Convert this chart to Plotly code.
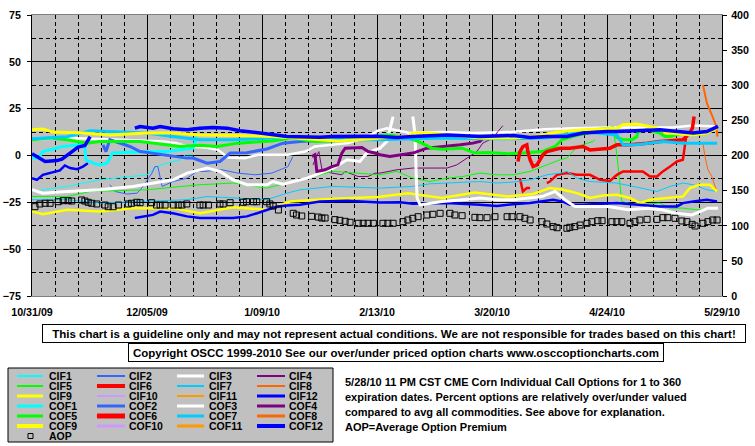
import pandas as pd
import plotly.graph_objects as go

# ---------------- data (day offsets from 10/31/09, value) ----------------
BASE = pd.Timestamp("2009-10-31")
x_tick_dates = ["2009-10-31", "2009-12-05", "2010-01-09", "2010-02-13",
                "2010-03-20", "2010-04-24", "2010-05-29"]
x_tick_labels = ["10/31/09", "12/05/09", "1/09/10", "2/13/10",
                 "3/20/10", "4/24/10", "5/29/10"]
left_ticks = [-75, -50, -25, 0, 25, 50, 75]
right_ticks = [0, 50, 100, 150, 200, 250, 300, 350, 400]

CIF1 = [(0, -19.2), (10.7, -16.5), (20.7, -13), (30.7, -11.2), (35, -10.3), (38, -5.9),
        (41.1, -4.1), (45, -2.3), (46.6, 0.4), (49, 0.4)]
CIF2 = [(23.7, -15.6), (25.3, -19.2), (28.9, -20.6), (32, -20.1), (33.8, -16.5), (36.5, -9.4),
        (37.4, -5.9), (38.3, -5.9), (39.6, -16.5), (42.9, -13.9), (47.2, -12.1), (50.2, -8.5),
        (52.6, -8.5), (57.8, -7.6), (62.7, -9.4), (67.9, -10.3), (73, -9.4), (77.9, -5.9), (79.4, -0.5)]
CIF3 = [(0, 8.5), (10.7, 9.3), (20.7, 8.8), (30.7, 8), (40, 7.5), (44, 6.5), (47.2, 4.8),
        (52.6, 4.3), (56.6, 3), (59.6, -1.1), (64.8, -1.4), (68.8, 0.4), (77.9, 0.4), (83.1, 2.1),
        (86.1, 4.8), (91.3, 5.7), (96.2, 6.6), (101.3, 9.3), (105.3, 13.2), (108, 14.5), (115, 12),
        (125, 12.5), (135, 12), (146, 12.5), (156, 14), (165, 14.5), (175, 15), (185, 15),
        (195, 15), (201, 16), (208.8, 15.5)]
CIF4 = [(85.5, -5), (87.3, 2.1), (88.3, -8), (91.3, -9.4), (94.3, -10.3), (95.3, -8.5),
        (99.2, -11.2), (102.3, -11.2), (104.4, -9.4), (105.9, -9.4), (111.1, -7.6), (115.9, -6.7),
        (126.3, -6.7), (129.3, -5), (132.4, -1.4), (135.4, 2.1), (137.2, 6.6), (140.3, 9.3),
        (141.8, 12.8), (143.3, 15.9)]
CIF5 = [(0, -21.9), (10.7, -21.9), (17.7, -19.2), (35, -18.3), (51.1, -15.6), (61.2, -14.7),
        (71.5, -17.4), (81.6, -13), (91.6, -8.5), (105.9, -10.3), (111.1, -8.5), (115.9, -12.1),
        (121.1, -13.9), (126.3, -12.1), (131.2, -11.2), (136.3, -9.4), (141.5, -10.3),
        (146.4, -10.3), (151.6, -8.5), (156.7, -5), (160.7, -2.3), (162.8, -1.4), (165.9, 4.8),
        (170.7, 7.5), (171.3, 8.4), (174, None), (176.8, 15.5), (178, 0.4), (179.5, -24.6),
        (184.1, -26.3), (191.1, -25.4), (194.2, -28.1), (198.1, -28.1), (202.4, -29), (208.5, -28.1)]
CIF6 = [(148.5, -12.1), (149.1, -16.5), (149.4, -19.2), (150.6, -17.4), (151.6, -17.4), (154, None),
        (156.7, -14.7), (157.6, -13.9), (159.8, -10.3), (162.8, -9.4), (165.9, -10.3), (169.8, -10.3),
        (172.9, -13), (175.9, -13.6), (178, -10.3), (179.9, -8.5), (185.9, -8.5), (188.1, -11.2),
        (190.2, -11.2), (192, -8.5), (194.2, -5.9), (196.3, -3.2), (198.1, -2.3), (198.7, 5.7),
        (199.3, 12.8)]
CIF7 = [(0, -23.6), (10.7, -23.6), (20.7, -25.4), (35, -24.6), (47.2, -23.6), (53.3, -21.9),
        (61.2, -22.7), (71.5, -23.6), (77.6, -20.1), (81.6, -18.3), (91.6, -16.5), (105.9, -17.4),
        (115.9, -16.5), (121.1, -15.1), (126.3, -14.7), (136.3, -13.9), (141.5, -14.7), (146.4, -14.2),
        (151.6, -13), (156.7, -10.3), (160.7, -9.4), (162.8, -8.5), (165.9, -12.1), (169.8, -13.9),
        (178, -14.7), (185.9, -17.4), (190.2, -19.2), (194.2, -16.5), (198.1, -14.7), (201.2, -15.6),
        (205.4, -18.3), (208.5, -19.2)]
CIF8 = [(204.2, 6.6), (204.8, -0.5), (205.7, -7.6), (206.9, -11.2), (207.9, -16.5), (208.5, -19.2)]
CIF9 = [(0, -29.9), (3.3, -31.3), (10.7, -29), (20.7, -29.9), (30.7, -28.1), (42.9, -28.1),
        (51.1, -30.8), (61.2, -27.6), (71.5, -29), (78.5, -24.6), (91.6, -23.1), (105.3, -22.2),
        (114.4, -20.1), (124.8, -22.7), (134.8, -19.7), (144.9, -21.9), (152.5, -20.5), (157.6, -17.4),
        (161.6, -18.3), (165.9, -20.1), (169.8, -22.7), (173.8, -21.4), (178, -21), (182, -22.7),
        (185, -25.4), (188.1, -23.6), (193.2, -22.7), (198.1, -21.9), (200.2, -17.4), (203.3, -15.6),
        (206.3, -15.6), (208.5, -19.2)]
CIF10 = []
CIF11 = []
CIF12 = [(0, -12.1), (1.5, -13), (3.3, -10.3), (5.5, -9.4), (8.5, -8), (10, -5.3), (11.6, -6.7),
         (13.7, -7.3), (15.5, -5.9), (17, -4.1), (24, None), (31.3, -33.4), (33.8, -32.5),
         (36.8, -31.7), (39, -29.9), (42.9, -30.8), (47.2, -32.5), (51.1, -33.4), (61.2, -33.4),
         (65.4, -32.5), (68.5, -30.8), (71.5, -29), (74.6, -27.2), (77.6, -26.7), (81.6, -26.3),
         (87.6, -24.6), (91.6, -24.6), (95.9, -24.2), (105.9, -25.1), (112, -24.9), (115.9, -25.8),
         (126.3, -25.4), (136.3, -26.3), (141.5, -26.9), (146.4, -26), (151.6, -25.4), (158.6, -23.6),
         (161.6, -24.6), (163.7, -26.3), (167.7, -26.3), (178, -25.4), (184.1, -26.3), (191.1, -27.2),
         (196.3, -27.2), (198.1, -25.4), (201.2, -24.6), (205.4, -23.6), (208.5, -24.6)]

COF1 = [(0, -1.4), (2, -1.4), (3.3, 2.1), (9.4, 4.8), (14.6, 5.7), (16.1, 3.9), (16.4, -2.3),
        (18.6, -4.1), (20.7, -5), (22.8, -4.1), (24.5, 1.3), (28.9, 1.6), (35, 2.1), (41.1, 2.1),
        (45, 3), (49, 3.9), (50.2, 10.1)]
COF2 = [(21.6, 5.7), (22.5, 2.1), (23.7, 8.4), (29.8, 4.8), (32.9, 2.1), (39.9, 0.4), (42.9, -0.5),
        (47.2, -1.4), (49, -1.4), (53.3, -4.1), (57.2, -3.2), (60.3, 1.3), (65.4, 1.5), (71.5, 3.5),
        (76.4, 6.6), (81.6, 7.5), (88.3, 8.2), (95, 9)]
COF3 = [(0, -18.3), (3.3, -20.1), (10.7, -19.2), (20.7, -18.3), (30.7, -16.5), (39, -13.9),
        (42.9, -13), (47.2, -9.4), (53.3, -6.7), (57.2, -8.5), (61.2, -13), (65.4, -15.6),
        (71.5, -15.6), (73.3, -13.9), (76.4, -15.3), (83.7, -12.1), (91.6, -6.7), (95.9, -2.3),
        (99.8, -3.2), (101.9, 1.3), (105.9, 3.9), (108, 7.5), (108.9, 14.6), (109.9, 20.8),
        (113, None), (115.9, 20.8), (116.6, 11), (116.9, -8.5), (117.2, -22.7), (118.1, -26.4),
        (124.8, -24.6), (131.2, -23.6), (136.3, -22.7), (141.5, -23.6), (146.4, -23.6),
        (155.2, -21.9), (159.2, -19.2), (162.2, -23.6), (165.2, -27.2), (175.3, -27.2), (181.4, -29),
        (187.5, -28.1), (191.7, -29), (196, -30.8), (200.9, -31.7), (205.7, -28.1), (208.8, -28.1)]
COF4 = [(85.2, -0.5), (86.1, 0.4), (86.7, -8.5), (89.2, -7.6), (91.3, -5.9), (93.1, -5), (94.3, 1.3),
        (95.3, 3.9), (100.4, 4.3), (102.3, 2.1), (104.4, 1.3), (105.9, 0.4), (108.9, -0.5), (112, 0.4),
        (115.9, 1.3), (120.2, 3.9), (126.3, 4.8), (130.3, 5.7), (134.2, 6.6), (136.3, 7.5), (137.9, 10.1)]
COF5 = [(0, 8.4), (5.5, 9.3), (10.7, 8.4), (16.7, 6.6), (20.7, 7.5), (32.9, 7.5), (45, 4.8),
        (51.1, 5.5), (56.3, 4.8), (62.7, 6.6), (73, 7.8), (79.1, 9.3), (86.1, 7.5), (95.3, 8),
        (104.4, 10.1), (108.3, 11), (114.4, 9.3), (117.5, 7.5), (121.7, 3.9), (124.8, 3.4),
        (130.9, 3.9), (134.8, 1.3), (138.8, 1.6), (144.9, 0.9), (149.1, 1.3), (155.2, 2.1),
        (159.2, 4.8), (161.3, 8.4), (165.2, 10.5), (169.2, 12), (171.3, 13.7), (176.8, 14.6),
        (178, 9.6), (179.9, 8.4), (182.6, 8.4), (184.1, 10.1), (184.4, 12.8), (187.2, 13.7),
        (191.1, 12), (192.6, 10.1), (194.2, 10.1), (196.3, 11), (198.1, 12), (201.2, 11),
        (205.4, 12), (208.5, 14.6)]
COF6 = [(147.9, -3.2), (148.5, 2.1), (149.4, 4.8), (150.6, 5.7), (150.9, 2.1), (151.6, -2.3),
        (152.5, -5.9), (153.7, -5), (154.6, -2.3), (155.5, 0.4), (156.7, 2.1), (158.6, 3),
        (160.7, 3.9), (163.7, 3.9), (167.7, 4.8), (169.8, 3), (175.9, 3.9), (178, 5.7), (182, 5.7),
        (187.2, 6.6), (191.1, 7.5), (198.1, 8.4), (200.2, 12), (201, 14.6), (201.5, 20.8)]
COF7 = [(0, 9), (10.7, 10), (17.7, 13.2), (23.7, 12.8), (35, 12), (42.9, 10.1), (51.1, 8.4),
        (61.2, 8.4), (71.5, 9.3), (81.6, 10.1), (91.6, 8.4), (105.9, 8.4), (115.9, 9), (126.3, 9.3),
        (136.3, 9), (146.4, 9), (156.7, 9.5), (161.6, 11), (167.7, 12.8), (178, 11), (179.9, 5.7),
        (184.1, 5.7), (188.1, 6.6), (192, 7.5), (198.1, 6.6), (203.3, 6.6), (208.5, 6.6)]
COF8 = [(204.2, 37.7), (205.4, 27.9), (206.9, 21.7), (208.3, 15.5), (208.6, 10.1)]
COF9 = [(0, 13.7), (3.3, 14.1), (6.4, 12.5), (15.5, 12), (23.7, 11), (35, 12), (42.9, 12),
        (51.1, 11), (62.7, 10.7), (73, 10.1), (83.1, 8.9), (93.1, 7.8), (103.5, 8.9), (105.9, 9.3),
        (114.1, 10.1), (115.9, 12), (121.1, 12), (131.2, 10.1), (136.3, 9.3), (146.4, 9.3),
        (152.5, 10), (160, 12.5), (167.7, 13.7), (178, 14.6), (179.9, 16.4), (184.1, 16.8),
        (188.1, 15.5), (190.2, 14.6), (193.2, 12), (198.1, 11.4), (201.2, 11), (205.4, 12), (208.5, 14.6)]
COF10 = []
COF11 = []
COF12 = [(0, 0.9), (1.5, -0.5), (4, -3.2), (7.6, -2.7), (9.1, -1.9), (12.2, 2.1), (14, 4.5),
         (16.1, 5.3), (17.7, 10.1), (24, None), (31.3, 14.6), (32.9, 15.5), (36.8, 14.6), (39, 15.5),
         (42.9, 14.3), (47.2, 13.7), (51.1, 14.6), (55.1, 15), (59.4, 14.6), (63.3, 13.2), (69.4, 12),
         (73.3, 11), (77.6, 10.1), (87.6, 9.8), (91.6, 10.1), (105, 10.3), (111, 9.6), (115.9, 10.1),
         (126.3, 11), (136.3, 10.1), (146.4, 10.7), (151.6, 9.6), (156.7, 10.1), (162.8, 10.1),
         (167.7, 12), (175, 12.8), (178, 12.8), (191.1, 13.7), (198.1, 12.8), (201.2, 12),
         (205.4, 12.8), (208.8, 15.5)]

# Average Option Premium (right axis)
AOP = [(0.9, 127.1), (2.4, 131), (4, 132), (5.5, 132), (8, 134.2), (9.5, 135.7), (11, 135.7),
       (12.1, 135.2), (15.1, 136.7), (16.1, 135.2), (17.1, 133.4), (18.2, 132), (19.7, 131),
       (22.2, 129.5), (23.2, 127.1), (24.7, 127.1), (26.3, 129.5), (29.3, 131), (30.3, 132),
       (31.9, 133.4), (32.9, 132.8), (36.4, 132.8), (37.9, 129.5), (39, 129.5), (40.5, 129.5),
       (43, 129.5), (44.5, 129.5), (45.6, 129.5), (47.1, 131), (51.1, 129.5), (52.1, 129.5),
       (53.7, 129.5), (57.2, 131), (58.2, 131), (60.3, 132.8), (64.3, 133.4), (65.3, 134.2),
       (67.4, 134.2), (68.4, 134.2), (71.4, 134.2), (72.4, 131), (73.4, 128.1), (75, 122.4),
       (79.5, 117.7), (80.5, 115.3), (82.1, 113.9), (85.1, 113.4), (87.1, 112.4), (88.2, 111),
       (89.2, 111), (92.2, 108.7), (93.7, 107.7), (95.3, 106.3), (96.8, 104.9), (99.3, 103.5),
       (100.8, 103.5), (102.3, 103.5), (103.9, 103.5), (106.8, 103.5), (108.3, 103.5),
       (109.9, 103.5), (112.9, 105.8), (114.4, 108.2), (115.9, 110.6), (117.5, 112.9),
       (120.2, 115.3), (122, 116.3), (124.2, 117.7), (127.2, 117.7), (128.7, 115.3), (130.9, 114.3),
       (134.8, 112), (136.3, 111.5), (138.5, 111.5), (140.9, 112.9), (144.6, 112.9), (146.1, 112.9),
       (148.5, 112.9), (150, 110.6), (151.6, 108.2), (155.2, 105.8), (156.7, 102.5), (158.6, 98.7),
       (159.8, 97.2), (162.8, 96.4), (163.7, 97.8), (165.2, 98.7), (166.8, 101), (168.9, 103.5),
       (170.4, 105.8), (172.2, 107.2), (173.5, 107.2), (176.5, 105.8), (178, 105.8), (179.5, 105.8),
       (182, 103.5), (183.5, 105.8), (185, 108.2), (187.2, 109.1), (190.2, 109.1), (192, 111.5),
       (193.5, 111.5), (195.7, 110.6), (197.8, 106.8), (199.3, 105.8), (200.9, 102), (201.8, 99.6),
       (204.2, 103.5), (205.7, 105.8), (207.2, 108.2), (208.5, 108.2)]

series_names = ["CIF1", "CIF2", "CIF3", "CIF4", "CIF5", "CIF6", "CIF7", "CIF8", "CIF9", "CIF10",
                "CIF11", "CIF12", "COF1", "COF2", "COF3", "COF4", "COF5", "COF6", "COF7", "COF8",
                "COF9", "COF10", "COF11", "COF12"]
series_data = [CIF1, CIF2, CIF3, CIF4, CIF5, CIF6, CIF7, CIF8, CIF9, CIF10, CIF11, CIF12,
               COF1, COF2, COF3, COF4, COF5, COF6, COF7, COF8, COF9, COF10, COF11, COF12]
base_colors = ["#00FFFF", "#3366FF", "#FFFFFF", "#800080", "#00FF00", "#FF0000",
               "#00CCFF", "#FF6600", "#FFFF00", "#CC99FF", "#FF9900", "#0000FF"]
series_colors = base_colors + base_colors
plot_widths = [1, 1, 2.5, 1, 1, 2.5, 1, 1, 2.5, 1, 1, 2.5,
               3, 3, 3, 3, 3, 3.5, 3, 2, 3, 3, 3, 3.5]
legend_widths = [2, 2, 3, 2, 2, 4, 2, 2, 3, 2, 2, 3,
                 3, 3, 3, 3, 3, 5, 3, 3, 4, 3, 3, 4]

info_lines = ["5/28/10 11 PM CST CME Corn Individual Call Options for 1 to 360",
              "expiration dates. Percent options are relatively over/under valued",
              "compared to avg all commodities. See above for explanation.",
              "AOP=Average Option Premium"]
disclaimer = ("This chart is a guideline only and may not represent actual conditions. "
              "We are not responsible for trades based on this chart!")
copyright_text = ("Copyright OSCC 1999-2010 See our over/under priced option charts "
                  "www.osccoptioncharts.com")

# ---------------- layout geometry ----------------
W, H = 755, 446
ML, MR, MT, MB = 32, 33, 15, 150
PW, PH = W - ML - MR, H - MT - MB
FONT = "Liberation Sans, Arial, sans-serif"


def px(x):
    return (x - ML) / PW


def py(y):
    return (H - MB - y) / PH


def to_dates(days):
    return [BASE + pd.Timedelta(days=d) for d in days]


fig = go.Figure()
for name, data, col, w in zip(series_names, series_data, series_colors, plot_widths):
    if not data:
        continue
    d, v = zip(*data)
    fig.add_trace(go.Scatter(x=to_dates(d), y=list(v), mode="lines", name=name,
                             line=dict(color=col, width=w), connectgaps=False,
                             showlegend=False, hoverinfo="skip"))

ad, av = zip(*AOP)
fig.add_trace(go.Scatter(x=to_dates(ad), y=list(av), mode="markers", name="AOP", yaxis="y2",
                         marker=dict(symbol="square-open", size=6, color="black",
                                     line=dict(width=1, color="black")),
                         showlegend=False, hoverinfo="skip"))

tickfont = dict(family=FONT, size=10.7, color="black", weight="bold")
fig.update_layout(
    width=W, height=H, margin=dict(l=ML, r=MR, t=MT, b=MB, autoexpand=False),
    paper_bgcolor="white", plot_bgcolor="#C0C0C0", showlegend=False,
    font=dict(family=FONT, color="black"),
    xaxis=dict(type="date", range=[BASE, pd.Timestamp(x_tick_dates[-1])],
               tickmode="array", tickvals=x_tick_dates, ticktext=x_tick_labels,
               showgrid=True, gridcolor="black", gridwidth=1,
               minor=dict(tick0="2009-10-31", dtick=7 * 86400000, showgrid=True,
                          gridcolor="black", griddash="4px,3px", gridwidth=1),
               showline=True, linecolor="#808080", linewidth=1, mirror=True,
               ticks="", tickfont=tickfont, ticklabelstandoff=6, zeroline=False),
    yaxis=dict(range=[-75, 75], tickmode="array", tickvals=left_ticks,
               showgrid=True, gridcolor="black", gridwidth=1,
               minor=dict(tick0=0, dtick=12.5, showgrid=True, gridcolor="black",
                          griddash="4px,3px", gridwidth=1),
               showline=True, linecolor="black", linewidth=1, ticks="outside",
               ticklen=4, tickcolor="black", tickfont=tickfont, zeroline=False,
               ticklabelstandoff=4),
    yaxis2=dict(range=[0, 400], tickmode="array", tickvals=right_ticks, overlaying="y",
                side="right", showgrid=False, showline=True, linecolor="black", linewidth=1,
                ticks="outside", ticklen=4, tickcolor="black", tickfont=tickfont,
                zeroline=False, ticklabelstandoff=2),
)

shapes = []
annotations = []
# legend panel
shapes.append(dict(type="rect", xref="paper", yref="paper", x0=px(8), x1=px(333),
                   y0=py(442), y1=py(368), fillcolor="#C0C0C0",
                   line=dict(color="black", width=1), layer="above"))
col_line_x = [(17, 43), (97, 125), (177, 204), (257, 285)]
col_text_x = [47, 127, 207, 287]
for i, (name, col, lw) in enumerate(zip(series_names, series_colors, legend_widths)):
    row, c = divmod(i, 4)
    yy = 376 + 10 * row
    shapes.append(dict(type="line", xref="paper", yref="paper", x0=px(col_line_x[c][0]),
                       x1=px(col_line_x[c][1]), y0=py(yy), y1=py(yy),
                       line=dict(color=col, width=lw), layer="above"))
    annotations.append(dict(text=name, xref="paper", yref="paper", x=px(col_text_x[c]),
                            y=py(yy), xanchor="left", yanchor="middle", showarrow=False,
                            font=dict(family=FONT, size=10.5, weight="bold", color="black")))
shapes.append(dict(type="rect", xref="paper", yref="paper", x0=px(28), x1=px(33),
                   y0=py(438.5), y1=py(433.5), line=dict(color="black", width=1),
                   layer="above"))
annotations.append(dict(text="AOP", xref="paper", yref="paper", x=px(47), y=py(436),
                        xanchor="left", yanchor="middle", showarrow=False,
                        font=dict(family=FONT, size=10.5, weight="bold", color="black")))

# boxed notices
annotations.append(dict(text=disclaimer, xref="paper", yref="paper", x=px(394), y=py(333.5),
                        xanchor="center", yanchor="middle", showarrow=False,
                        width=700, height=15, borderpad=1, bordercolor="black",
                        borderwidth=1, bgcolor="white",
                        font=dict(family=FONT, size=11.5, weight="bold", color="black")))
annotations.append(dict(text=copyright_text, xref="paper", yref="paper", x=px(396),
                        y=py(352.5), xanchor="center", yanchor="middle", showarrow=False,
                        width=532, height=15, borderpad=1, bordercolor="black",
                        borderwidth=1, bgcolor="white",
                        font=dict(family=FONT, size=11.5, weight="bold", color="black")))
for k, line in enumerate(info_lines):
    annotations.append(dict(text=line, xref="paper", yref="paper", x=px(343),
                            y=py(382 + 15 * k), xanchor="left", yanchor="middle",
                            showarrow=False,
                            font=dict(family=FONT, size=11, weight="bold", color="black")))

fig.update_layout(shapes=shapes, annotations=annotations)
fig.write_html("out.html", config={"displayModeBar": False, "staticPlot": True},
               post_script="document.body.style.margin='0';"
                           "document.body.style.overflow='hidden';")
